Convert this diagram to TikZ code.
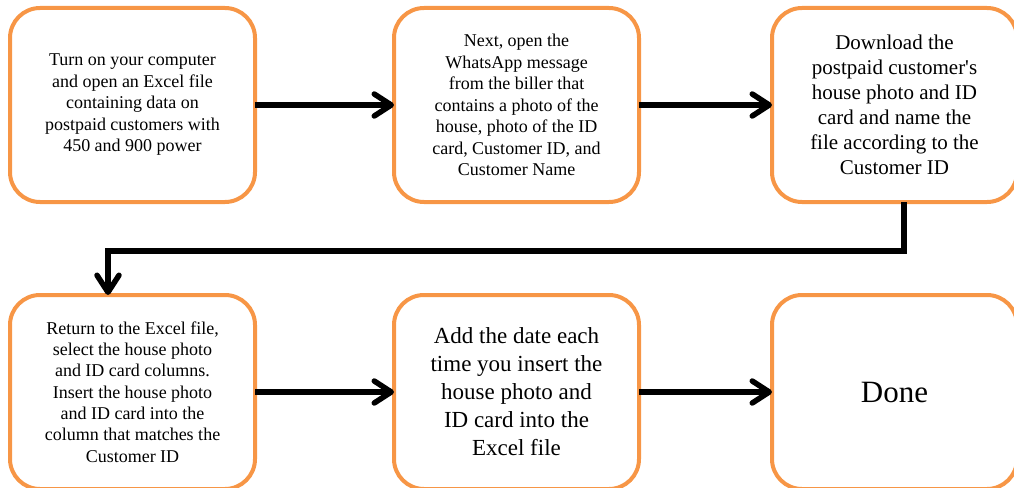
\documentclass[tikz,border=0pt]{standalone}
\usepackage{fontspec}
\setmainfont{Liberation Serif}
\usepackage{tikz}
\usetikzlibrary{positioning, arrows.meta}

\definecolor{boxorange}{HTML}{F79646}

\begin{document}
\begin{tikzpicture}[auto,node distance=139pt,>={Straight Barb[length=17pt,width=22pt,round]}]

	\tikzstyle{stepbox}=[draw=boxorange,line width=4pt,rounded corners=30pt,minimum width=245pt,minimum height=194pt,align=center,inner sep=0pt,outer sep=0pt,font=\fontsize{18}{21.5}\selectfont]
	\tikzstyle{flow}=[->,line width=5.5pt,black]

	\useasboundingbox (0,0) rectangle (1014pt,-487pt);

	\node[stepbox] (s1) at (132.5pt,-105pt) {Turn on your computer\\and open an Excel file\\containing data on\\postpaid customers with\\450 and 900 power};
	\node[stepbox,right=of s1] (s2) {Next, open the\\WhatsApp message\\from the biller that\\contains a photo of the\\house, photo of the ID\\card, Customer ID, and\\Customer Name};
	\node[stepbox,right=133pt of s2,font=\fontsize{21}{25}\selectfont] (s3) {Download the\\postpaid customer\textquotesingle s\\house photo and ID\\card and name the\\file according to the\\Customer ID};
	\node[stepbox,below=93pt of s1,font=\fontsize{18}{21.3}\selectfont] (s4) {Return to the Excel file,\\select the house photo\\and ID card columns.\\Insert the house photo\\and ID card into the\\column that matches the\\Customer ID};
	\node[stepbox,right=of s4,font=\fontsize{23}{28}\selectfont] (s5) {Add the date each\\time you insert the\\house photo and\\ID card into the\\Excel file};
	\node[stepbox,right=133pt of s5,font=\fontsize{31}{36}\selectfont] (s6) {Done};

	\draw[flow] (s1) -- (s2);
	\draw[flow] (s2) -- (s3);
	\draw[flow] ([xshift=9.5pt]s3.south) -- ++(0,-49pt) -| ([xshift=-24.5pt]s4.north);
	\draw[flow] (s4) -- (s5);
	\draw[flow] (s5) -- (s6);
\end{tikzpicture}
\end{document}
